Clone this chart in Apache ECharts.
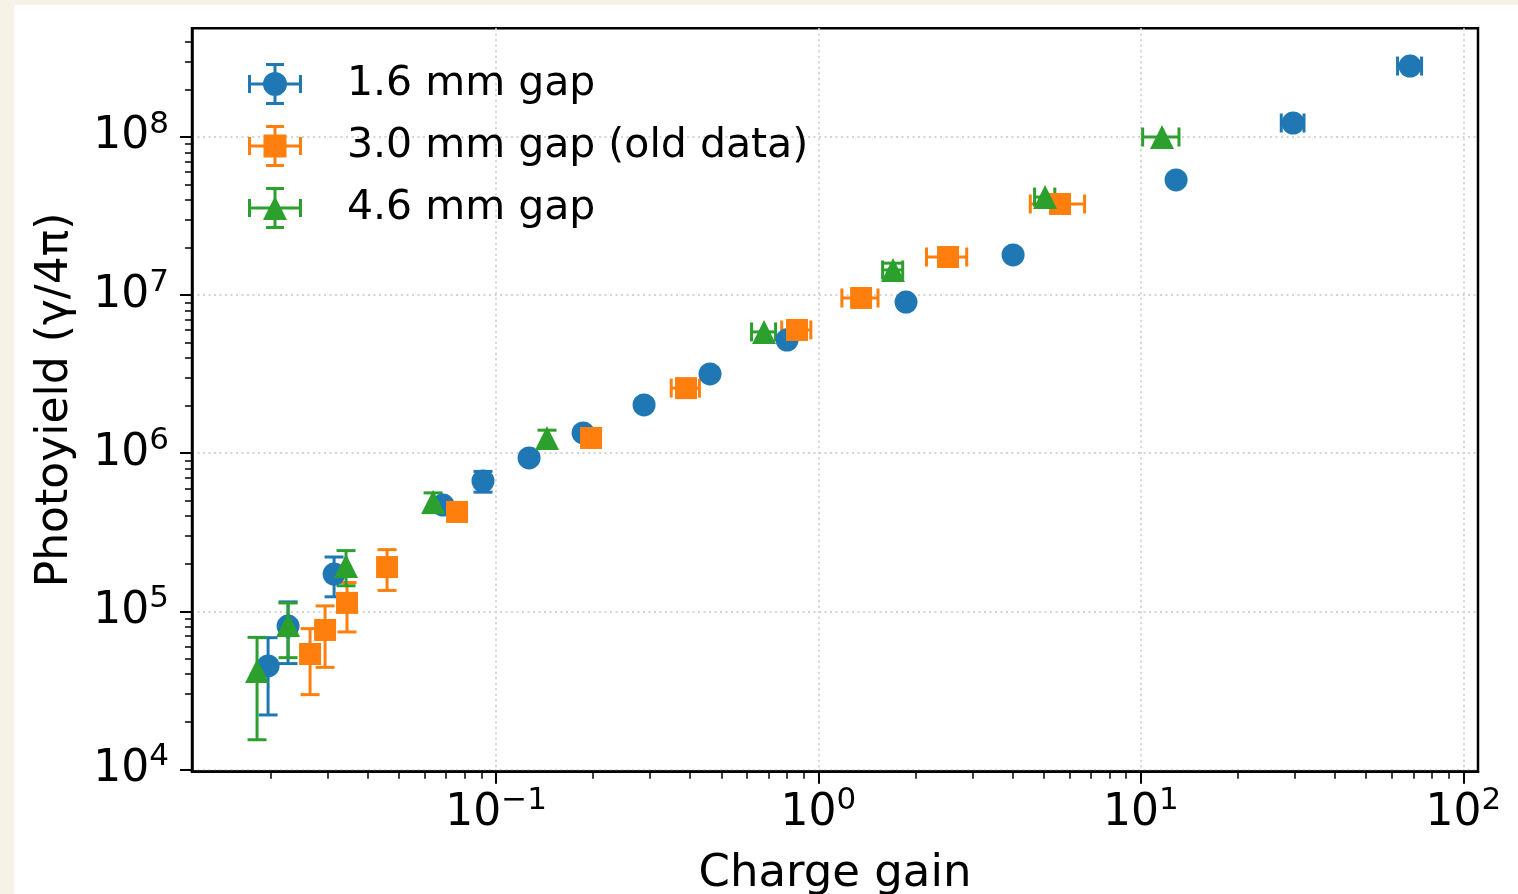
<!DOCTYPE html>
<html>
<head>
<meta charset="utf-8">
<script src="https://cdn.jsdelivr.net/npm/echarts@6/dist/echarts.min.js"></script>
<style>
html,body{margin:0;padding:0;background:#f7f2e8;width:1518px;height:894px;overflow:hidden;}
#chart{position:absolute;left:14px;top:5px;width:1504px;height:889px;background:#ffffff;}
</style>
</head>
<body>
<div id="chart"></div>
<script>
// ---------- data ----------
const seriesNames = ['1.6 mm gap', '3.0 mm gap (old data)', '4.6 mm gap'];

const gap16X    = [0.01963, 0.02264, 0.03145, 0.0685, 0.0911, 0.1266, 0.1862, 0.2878, 0.4610, 0.7991, 1.869, 4.015, 12.86, 29.66, 68.4];
const gap16Y    = [45.1e3, 80.7e3, 172e3, 470e3, 667e3, 933e3, 1.343e6, 2.02e6, 3.17e6, 5.20e6, 9.04e6, 1.794e7, 5.35e7, 1.226e8, 2.81e8];
const gap16Xerr = [0, 0, 0, 0, 0, 0, 0, 0, 0, 0, 0, 0, 0, 2.4, 5.85];
const gap16Yerr = [23e3, 34e3, 48.5e3, 0, 1.0e5, 0, 0, 0, 0, 0, 0, 0, 0, 0, 0];

const gap30X    = [0.02649, 0.02949, 0.03449, 0.04591, 0.0757, 0.1971, 0.3884, 0.858, 1.356, 2.523, 5.615];
const gap30Y    = [53.7e3, 76.2e3, 113e3, 190.5e3, 425e3, 1.248e6, 2.58e6, 6.02e6, 9.59e6, 1.742e7, 3.77e7];
const gap30Xerr = [0, 0, 0, 0, 0, 0, 0.039, 0.089, 0.174, 0.36, 1.075];
const gap30Yerr = [24e3, 32e3, 39e3, 55e3, 0, 0, 0, 0, 0, 0, 0];

const gap46X    = [0.01814, 0.02264, 0.03425, 0.0638, 0.1439, 0.6781, 1.703, 5.045, 11.63];
const gap46Y    = [41.9e3, 81.9e3, 193.5e3, 491e3, 1.248e6, 5.85e6, 1.442e7, 4.17e7, 1.0e8];
const gap46Xerr = [0, 0, 0, 0, 0, 0.058, 0.122, 0.364, 1.5];
const gap46Yerr = [26.5e3, 31e3, 48.5e3, 7e4, 1.5e5, 0, 1.5e6, 0, 0];

const xMajorTicks = [0.1, 1, 10, 100];
const yMajorTicks = [1e4, 1e5, 1e6, 1e7, 1e8];
const minorMultipliers = [2, 3, 4, 5, 6, 7, 8, 9];
const xDecades = [0.01, 0.1, 1, 10];
const yDecades = [1e4, 1e5, 1e6, 1e7, 1e8];

const xRange = [0.0114, 111.1];
const yRange = [9670, 4.87e8];

const xTitle = 'Charge gain';
const yTitle = 'Photoyield (γ/4π)';

// ---------- helpers ----------
function minorTicks(decades){
  const out = [];
  decades.forEach(d => minorMultipliers.forEach(m => out.push(d * m)));
  return out;
}
function zip4(xs, ys, xe, ye){ return xs.map((x, i) => [x, ys[i], xe[i], ye[i]]); }
function zip2(xs, ys){ return xs.map((x, i) => [x, ys[i]]); }

const FONT = 'DejaVu Sans';
const colors = ['#1f77b4', '#ff7f0e', '#2ca02c'];

function powLabel(v){
  const e = Math.round(Math.log10(v));
  return '{b|10}{s|' + String(e).replace('-', '\u2212') + '}';
}
const labelRich = {
  b: {fontSize: 44, fontFamily: FONT, color: '#000', lineHeight: 56},
  s: {fontSize: 31, fontFamily: FONT, color: '#000', lineHeight: 31, verticalAlign: 'top'}
};

const CAP = 9.5, LW = 3;
function errRender(color){
  return function(params, api){
    const x = api.value(0), y = api.value(1), xe = api.value(2), ye = api.value(3);
    const children = [];
    const st = {stroke: color, lineWidth: LW};
    if (ye > 0){
      const p1 = api.coord([x, y - ye]), p2 = api.coord([x, y + ye]);
      children.push({type:'line', shape:{x1:p1[0], y1:p1[1], x2:p2[0], y2:p2[1]}, style:st});
      children.push({type:'line', shape:{x1:p1[0]-CAP, y1:p1[1], x2:p1[0]+CAP, y2:p1[1]}, style:st});
      children.push({type:'line', shape:{x1:p2[0]-CAP, y1:p2[1], x2:p2[0]+CAP, y2:p2[1]}, style:st});
    }
    if (xe > 0){
      const p1 = api.coord([x - xe, y]), p2 = api.coord([x + xe, y]);
      children.push({type:'line', shape:{x1:p1[0], y1:p1[1], x2:p2[0], y2:p2[1]}, style:st});
      children.push({type:'line', shape:{x1:p1[0], y1:p1[1]-CAP, x2:p1[0], y2:p1[1]+CAP}, style:st});
      children.push({type:'line', shape:{x1:p2[0], y1:p2[1]-CAP, x2:p2[0], y2:p2[1]+CAP}, style:st});
    }
    return {type:'group', children};
  };
}

// legend icons: error-bar cross + marker (54 x 42 box)
const crossPath = 'M0,19.5h54v3h-54z M0,12h3v18h-3z M51,12h3v18h-3z M25.5,0h3v42h-3z M18,0h18v3h-18z M18,39h18v3h-18z ';
const iconCircle = 'path://' + crossPath + 'M15,21a12,12 0 1,1 24,0a12,12 0 1,1 -24,0z';
const iconSquare = 'path://' + crossPath + 'M15.5,9.5h23v23h-23z';
const iconTri    = 'path://' + crossPath + 'M27,9L39,33L15,33z';

const gridLine = {show: true, lineStyle: {color: '#d4d4d4', width: 2, type: [2, 3.5]}};

function majorAxisCommon(range, ticks){
  return {
    type: 'log', logBase: 10, min: range[0], max: range[1],
    axisLine: {show: true, lineStyle: {color: '#000', width: 2.5}},
    axisTick: {show: true, inside: false, length: 12, lineStyle: {color: '#000', width: 2}, customValues: ticks},
    axisLabel: {show: true, formatter: powLabel, rich: labelRich, customValues: ticks},
    splitLine: gridLine,
    minorTick: {show: false}, minorSplitLine: {show: false}
  };
}
function minorAxisCommon(range, ticks){
  return {
    type: 'log', logBase: 10, min: range[0], max: range[1],
    axisLine: {show: false},
    axisTick: {show: true, inside: false, length: 7, lineStyle: {color: '#000', width: 1.5}, customValues: ticks},
    axisLabel: {show: false},
    splitLine: {show: false}
  };
}

const chart = echarts.init(document.getElementById('chart'), null, {renderer: 'canvas'});

const xMain = Object.assign(majorAxisCommon(xRange, xMajorTicks), {
  position: 'bottom', name: xTitle, nameLocation: 'middle', nameGap: 80,
  nameTextStyle: {fontSize: 45, fontFamily: FONT, color: '#000'}
});
xMain.axisLabel.margin = 14;
const xMinor = Object.assign(minorAxisCommon(xRange, minorTicks(xDecades)), {position: 'bottom'});

const yMain = Object.assign(majorAxisCommon(yRange, yMajorTicks), {
  position: 'left', name: yTitle, nameLocation: 'middle', nameGap: 114, nameRotate: 90,
  nameTextStyle: {fontSize: 44, fontFamily: FONT, color: '#000'}
});
yMain.axisLabel.margin = 23;
const yMinor = Object.assign(minorAxisCommon(yRange, minorTicks(yDecades)), {position: 'left'});

const series = [];
const sets = [
  {name: seriesNames[0], x: gap16X, y: gap16Y, xe: gap16Xerr, ye: gap16Yerr, symbol: 'circle', size: 23},
  {name: seriesNames[1], x: gap30X, y: gap30Y, xe: gap30Xerr, ye: gap30Yerr, symbol: 'rect', size: 22},
  {name: seriesNames[2], x: gap46X, y: gap46Y, xe: gap46Xerr, ye: gap46Yerr, symbol: 'triangle', size: 24}
];
sets.forEach((s, i) => {
  series.push({
    type: 'custom', name: s.name + ' err', xAxisIndex: 0, yAxisIndex: 0,
    renderItem: errRender(colors[i]), data: zip4(s.x, s.y, s.xe, s.ye),
    encode: {x: 0, y: 1}, itemStyle: {color: colors[i]}, silent: true, clip: false
  });
  series.push({
    type: 'scatter', name: s.name, xAxisIndex: 0, yAxisIndex: 0,
    symbol: s.symbol, symbolSize: s.size, data: zip2(s.x, s.y),
    itemStyle: {color: colors[i], opacity: 1}
  });
});

chart.setOption({
  animation: false,
  backgroundColor: 'transparent',
  grid: {left: 178, right: 40, top: 23.3, bottom: 122.3, show: true, borderColor: '#000', borderWidth: 2.5,
         backgroundColor: 'transparent', containLabel: false, outerBoundsMode: 'none'},
  xAxis: [xMain, xMinor],
  yAxis: [yMain, yMinor],
  legend: {
    left: 234, top: 58, orient: 'vertical', padding: 0,
    itemWidth: 54, itemHeight: 42, itemGap: 20, selectedMode: false,
    textStyle: {fontSize: 41, fontFamily: FONT, color: '#000', padding: [0, 0, 0, 40], lineHeight: 42},
    data: [
      {name: seriesNames[0], icon: iconCircle},
      {name: seriesNames[1], icon: iconSquare},
      {name: seriesNames[2], icon: iconTri}
    ]
  },
  series: series
});
</script>
</body>
</html>
